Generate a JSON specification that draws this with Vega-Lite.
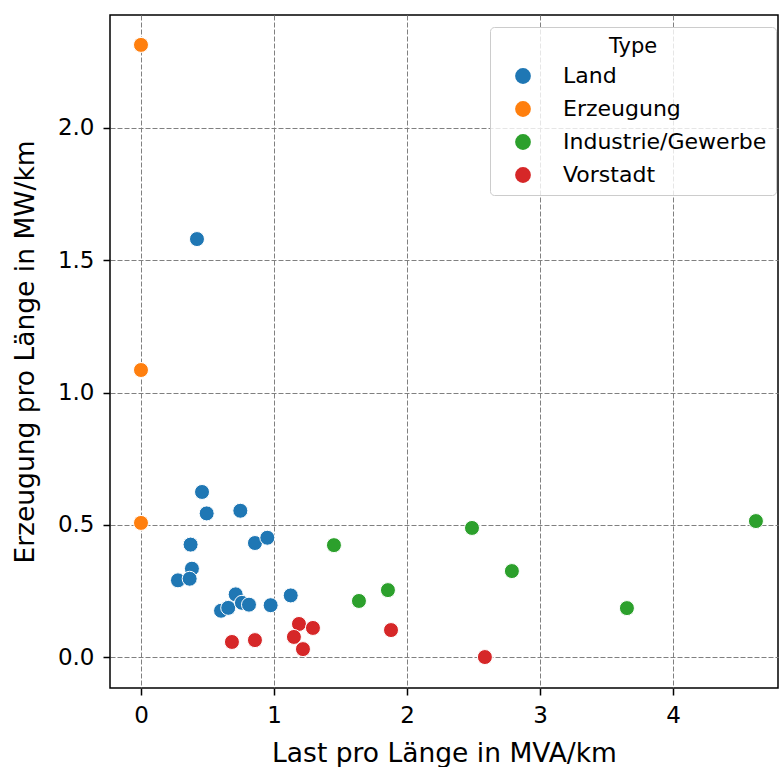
{
  "$schema": "https://vega.github.io/schema/vega-lite/v6.json",
  "autosize": {"type": "none"},
  "padding": {"left": 110, "top": 15, "right": 1, "bottom": 79},
  "width": 668,
  "height": 673,
  "config": {
    "font": "DejaVu Sans",
    "view": {"stroke": "black", "strokeWidth": 1.5},
    "axis": {
      "grid": true,
      "gridColor": "#808080",
      "gridDash": [5, 2],
      "gridOpacity": 1,
      "gridWidth": 1,
      "domain": false,
      "tickColor": "black",
      "tickSize": 7,
      "tickWidth": 1.5,
      "labelFont": "DejaVu Sans",
      "labelFontSize": 23,
      "labelColor": "black",
      "titleFont": "DejaVu Sans",
      "titleFontSize": 26.5,
      "titleFontWeight": "normal",
      "titleColor": "black",
      "labelPadding": 9
    }
  },
  "data": {
    "values": [
      {"x": 0, "y": 2.314, "Type": "Erzeugung"},
      {"x": 0, "y": 1.085, "Type": "Erzeugung"},
      {"x": 0, "y": 0.507, "Type": "Erzeugung"},
      {"x": 0.421, "y": 1.580, "Type": "Land"},
      {"x": 0.459, "y": 0.624, "Type": "Land"},
      {"x": 0.494, "y": 0.543, "Type": "Land"},
      {"x": 0.747, "y": 0.553, "Type": "Land"},
      {"x": 0.373, "y": 0.425, "Type": "Land"},
      {"x": 0.857, "y": 0.431, "Type": "Land"},
      {"x": 0.950, "y": 0.451, "Type": "Land"},
      {"x": 0.383, "y": 0.334, "Type": "Land"},
      {"x": 0.278, "y": 0.290, "Type": "Land"},
      {"x": 0.366, "y": 0.296, "Type": "Land"},
      {"x": 0.712, "y": 0.237, "Type": "Land"},
      {"x": 0.602, "y": 0.175, "Type": "Land"},
      {"x": 0.656, "y": 0.186, "Type": "Land"},
      {"x": 0.759, "y": 0.205, "Type": "Land"},
      {"x": 0.812, "y": 0.198, "Type": "Land"},
      {"x": 0.975, "y": 0.196, "Type": "Land"},
      {"x": 1.126, "y": 0.233, "Type": "Land"},
      {"x": 1.451, "y": 0.423, "Type": "Industrie/Gewerbe"},
      {"x": 1.639, "y": 0.212, "Type": "Industrie/Gewerbe"},
      {"x": 1.857, "y": 0.253, "Type": "Industrie/Gewerbe"},
      {"x": 2.489, "y": 0.488, "Type": "Industrie/Gewerbe"},
      {"x": 2.789, "y": 0.325, "Type": "Industrie/Gewerbe"},
      {"x": 3.654, "y": 0.185, "Type": "Industrie/Gewerbe"},
      {"x": 4.624, "y": 0.514, "Type": "Industrie/Gewerbe"},
      {"x": 0.684, "y": 0.057, "Type": "Vorstadt"},
      {"x": 0.857, "y": 0.064, "Type": "Vorstadt"},
      {"x": 1.188, "y": 0.125, "Type": "Vorstadt"},
      {"x": 1.293, "y": 0.110, "Type": "Vorstadt"},
      {"x": 1.150, "y": 0.076, "Type": "Vorstadt"},
      {"x": 1.218, "y": 0.030, "Type": "Vorstadt"},
      {"x": 1.880, "y": 0.102, "Type": "Vorstadt"},
      {"x": 2.586, "y": 0.0, "Type": "Vorstadt"}
    ]
  },
  "mark": {"type": "point", "filled": true, "size": 225, "opacity": 1, "stroke": "white", "strokeWidth": 1},
  "encoding": {
    "x": {
      "field": "x", "type": "quantitative",
      "scale": {"domain": [-0.233, 4.79], "nice": false, "zero": false},
      "axis": {"values": [0, 1, 2, 3, 4], "title": "Last pro Länge in MVA/km", "titlePadding": 13}
    },
    "y": {
      "field": "y", "type": "quantitative",
      "scale": {"domain": [-0.117, 2.427], "nice": false, "zero": false},
      "axis": {"values": [0, 0.5, 1, 1.5, 2], "format": ".1f", "title": "Erzeugung pro Länge in MW/km", "titlePadding": 18}
    },
    "color": {
      "field": "Type", "type": "nominal",
      "scale": {
        "domain": ["Land", "Erzeugung", "Industrie/Gewerbe", "Vorstadt"],
        "range": ["#1f77b4", "#ff7f0e", "#2ca02c", "#d62728"]
      },
      "legend": {
        "title": "Type",
        "orient": "none",
        "legendX": 380,
        "legendY": 12,
        "titleAnchor": "middle",
        "titleFontSize": 21,
        "titleFontWeight": "normal",
        "titleColor": "black",
        "titlePadding": 8,
        "labelFontSize": 22,
        "labelLimit": 400,
        "labelColor": "black",
        "labelOffset": 29,
        "symbolType": "circle",
        "symbolSize": 250,
        "symbolStrokeWidth": 0,
        "rowPadding": 11,
        "padding": 9,
        "strokeColor": "#cccccc",
        "fillColor": "rgba(255,255,255,0.8)",
        "cornerRadius": 4,
        "symbolOffset": 13
      }
    }
  }
}
